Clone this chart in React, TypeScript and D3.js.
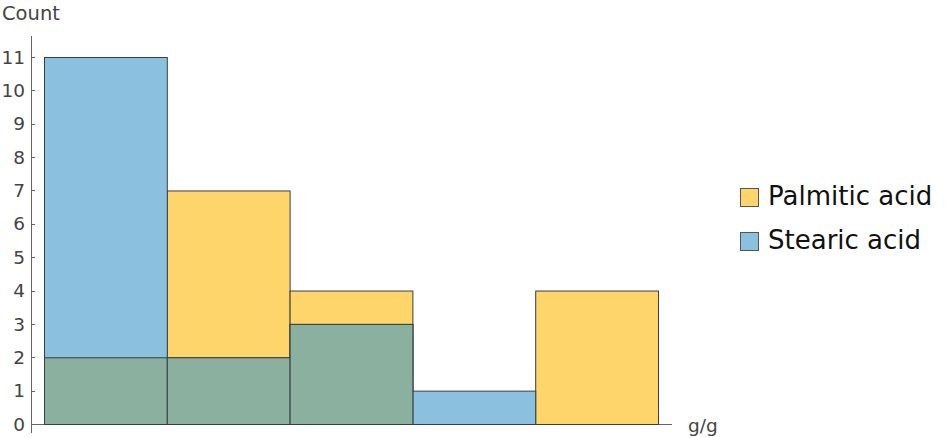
import React, { useEffect, useRef } from 'react';
import * as d3 from 'd3';

const bins = ['b1', 'b2', 'b3', 'b4', 'b5'];
const palmitic = [2, 7, 4, 0, 4];
const stearic = [11, 2, 3, 1, 0];
const yTicks = [0, 1, 2, 3, 4, 5, 6, 7, 8, 9, 10, 11];
const seriesNames = ['Palmitic acid', 'Stearic acid'];

const YELLOW = '#fdd56a';
const BLUE = '#8bc1df';
const MIX = '#8bb09f';
const FONT = 'DejaVu Sans, sans-serif';

export default function App() {
  const svgRef = useRef<SVGSVGElement>(null);

  useEffect(() => {
    const svg = d3.select(svgRef.current);
    svg.selectAll('*').remove();

    const x = d3.scaleBand().domain(bins).range([44, 658]).padding(0);
    const y = d3.scaleLinear().domain([0, 11]).range([424, 57]);

    // axes
    svg.append('line')
      .attr('x1', 31.5).attr('x2', 31.5).attr('y1', 36).attr('y2', 433)
      .attr('stroke', '#666').attr('stroke-width', 1);
    svg.append('line')
      .attr('x1', 31).attr('x2', 672).attr('y1', 424.5).attr('y2', 424.5)
      .attr('stroke', '#666').attr('stroke-width', 1);

    const ticks = svg.append('g');
    ticks.selectAll('line').data(yTicks).enter().append('line')
      .attr('x1', 31).attr('x2', 35)
      .attr('y1', d => Math.round(y(d)) + 0.5)
      .attr('y2', d => Math.round(y(d)) + 0.5)
      .attr('stroke', '#666');
    ticks.selectAll('text').data(yTicks).enter().append('text')
      .attr('x', 25).attr('y', d => y(d))
      .attr('dy', '0.36em')
      .attr('text-anchor', 'end')
      .attr('font-family', FONT).attr('font-size', 18.5)
      .attr('fill', '#444')
      .text(d => d);

    svg.append('text').attr('x', 2).attr('y', 20)
      .attr('font-family', FONT).attr('font-size', 19.5).attr('fill', '#444')
      .text('Count');
    svg.append('text').attr('x', 688).attr('y', 432)
      .attr('font-family', FONT).attr('font-size', 18.5).attr('fill', '#444')
      .text('g/g');

    // overlapping histogram: yellow, blue, then the shared part on top
    const layer = (vals: number[], fill: string) => {
      const g = svg.append('g');
      vals.forEach((v, i) => {
        if (v <= 0) return;
        g.append('rect')
          .attr('x', x(bins[i])! + 0.5)
          .attr('y', y(v) + 0.5)
          .attr('width', x.bandwidth())
          .attr('height', y(0) - y(v))
          .attr('fill', fill)
          .attr('stroke', '#3a3f44')
          .attr('stroke-width', 1);
      });
    };
    layer(palmitic, YELLOW);
    layer(stearic, BLUE);
    layer(palmitic.map((p, i) => Math.min(p, stearic[i])), MIX);

    // legend
    const legend = svg.append('g').attr('transform', 'translate(740,188)');
    [YELLOW, BLUE].forEach((c, i) => {
      legend.append('rect')
        .attr('x', 0.5).attr('y', i * 44 + 0.5)
        .attr('width', 18).attr('height', 18)
        .attr('fill', c).attr('stroke', '#555');
      legend.append('text')
        .attr('x', 28).attr('y', i * 44 + 17)
        .attr('font-family', FONT).attr('font-size', 26).attr('fill', '#111')
        .text(seriesNames[i]);
    });
  }, []);

  return (
    <svg ref={svgRef} width={946} height={438}
      style={{ position: 'absolute', left: 0, top: 0 }} />
  );
}
